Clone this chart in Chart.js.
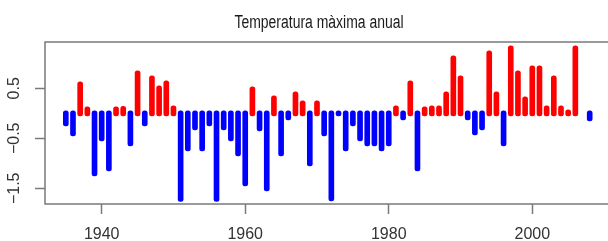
<!DOCTYPE html>
<html>
<head>
<meta charset="utf-8">
<script src="https://cdn.jsdelivr.net/npm/chart.js@4/dist/chart.umd.min.js"></script>
<style>
html,body{margin:0;padding:0;background:#fff;}
#wrap{width:608px;height:241px;position:relative;}
</style>
</head>
<body>
<div id="wrap"><canvas id="c" width="608" height="241"></canvas></div>
<script>
const title = "Temperatura màxima anual";
const years = [1935,1936,1937,1938,1939,1940,1941,1942,1943,1944,1945,1946,1947,1948,1949,
  1950,1951,1952,1953,1954,1955,1956,1957,1958,1959,1960,1961,1962,1963,1964,1965,1966,1967,1968,1969,
  1970,1971,1972,1973,1974,1975,1976,1977,1978,1979,1980,1981,1982,1983,1984,1985,1986,1987,1988,1989,
  1990,1991,1992,1993,1994,1995,1996,1997,1998,1999,2000,2001,2002,2003,2004,2005,2006,2007,2008];
const anomalies = [-0.25,-0.45,0.63,0.13,-1.25,-0.55,-1.15,0.13,0.14,-0.65,0.85,-0.25,0.75,0.55,0.65,
  0.15,-1.76,-0.75,-0.33,-0.75,-0.25,-1.76,-0.33,-0.55,-0.85,-1.45,0.53,-0.35,-1.55,0.35,-0.85,-0.13,0.43,0.25,-1.05,
  0.25,-0.45,-1.75,-0.05,-0.75,-0.25,-0.55,-0.65,-0.65,-0.75,-0.65,0.15,-0.13,0.65,-1.15,0.13,0.15,0.15,0.43,1.15,
  0.75,-0.13,-0.43,-0.33,1.25,0.43,-0.65,1.35,0.85,0.33,0.95,0.95,0.15,0.75,0.15,0.07,1.35,null,-0.15];
const xTicks = [1940,1960,1980,2000];
const yTicks = [-1.5,-1,-0.5,0,0.5,1];
const yLabels = [0.5,-0.5,-1.5];

const posData = years.map((y,i)=>({x:y, y:(anomalies[i]!==null && anomalies[i]>0)?anomalies[i]:null}));
const negData = years.map((y,i)=>({x:y, y:(anomalies[i]!==null && anomalies[i]<=0)?anomalies[i]:null}));

const boxColor = '#7a7a7a';
const frame = {
  id:'frame',
  afterDraw(chart){
    const ctx = chart.ctx, a = chart.chartArea;
    ctx.save();
    ctx.strokeStyle = boxColor; ctx.lineWidth = 1.5;
    ctx.beginPath();
    ctx.moveTo(chart.width+2, a.top); ctx.lineTo(a.left, a.top);
    ctx.lineTo(a.left, a.bottom); ctx.lineTo(chart.width+2, a.bottom);
    ctx.stroke();
    ctx.fillStyle = '#1a1a1a';
    ctx.font = '18px "Liberation Sans", Arial, sans-serif';
    ctx.textAlign = 'center'; ctx.textBaseline = 'alphabetic';
    ctx.translate(319, 28);
    ctx.scale(0.775, 1);
    ctx.fillText(title, 0, 0);
    ctx.restore();
  }
};

new Chart(document.getElementById('c'), {
  type:'bar',
  data:{datasets:[
    {data:posData, backgroundColor:'#ff0000', base:-0.05},
    {data:negData, backgroundColor:'#0000ff', base:0.05}
  ]},
  options:{
    responsive:false, animation:false,
    layout:{padding:{top:42,right:0,left:0,bottom:0}},
    datasets:{bar:{barThickness:5, grouped:false, borderRadius:2.5, borderSkipped:false, minBarLength:4}},
    plugins:{legend:{display:false}, tooltip:{enabled:false}, title:{display:false}},
    scales:{
      x:{type:'linear', min:1932.1, max:2010.55, offset:false,
        afterBuildTicks(s){ s.ticks = xTicks.map(v=>({value:v})); },
        afterFit(s){ s.height = 37; },
        grid:{offset:false, drawOnChartArea:false, drawTicks:true, tickLength:10, tickColor:boxColor, tickWidth:1.5},
        border:{display:false},
        ticks:{color:'#333', padding:11, maxRotation:0, font:{family:'"Liberation Sans", Arial, sans-serif', size:16},
          callback:v=>String(v)}
      },
      y:{min:-1.814, max:1.426,
        afterBuildTicks(s){ s.ticks = yTicks.map(v=>({value:v})); },
        afterFit(s){ s.width = 45; },
        grid:{offset:false, drawOnChartArea:false, drawTicks:true, tickLength:10, tickColor:boxColor, tickWidth:1.5},
        border:{display:false},
        ticks:{color:'#333', padding:5, minRotation:90, maxRotation:90, crossAlign:'center',
          font:{family:'"Liberation Sans", Arial, sans-serif', size:16},
          callback:v=> yLabels.includes(v) ? String(v).replace('-', '\u2212') : ''}
      }
    }
  },
  plugins:[frame]
});
</script>
</body>
</html>
